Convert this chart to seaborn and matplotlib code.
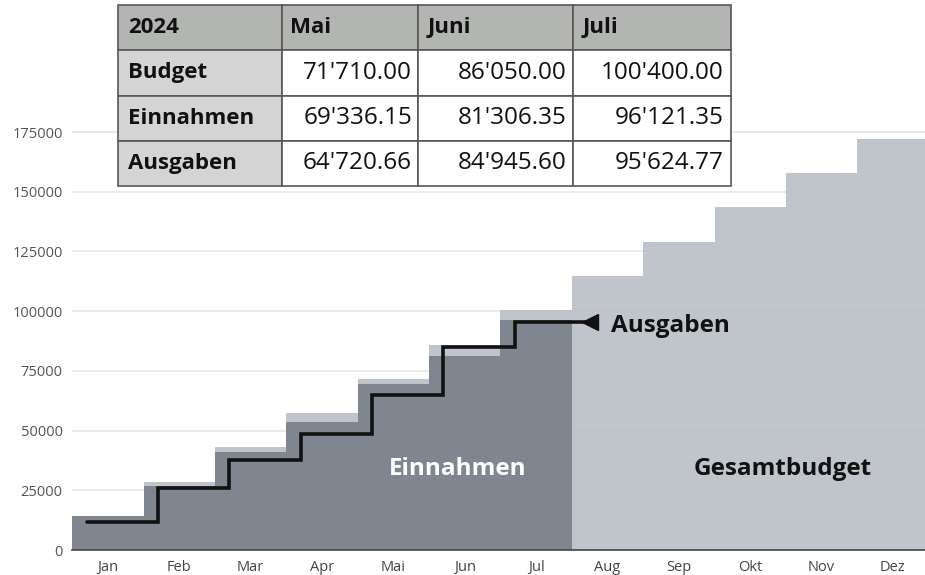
import numpy as np
import pandas as pd
import matplotlib
matplotlib.use("Agg")
import matplotlib.pyplot as plt
import seaborn as sns

# ---- data ----
months = ['Jan', 'Feb', 'Mar', 'Apr', 'Mai', 'Jun', 'Jul', 'Aug', 'Sep', 'Okt', 'Nov', 'Dez']
budget = [14340, 28680, 43020, 57360, 71710.00, 86050.00, 100400.00,
          114750, 129100, 143450, 157800, 172150]
einnahmen = [14300, 26700, 41200, 53800, 69336.15, 81306.35, 96121.35]
ausgaben = [11600, 26050, 37700, 48400, 64720.66, 84945.60, 95624.77]
table_year = '2024'
table_months = ['Mai', 'Juni', 'Juli']
table_rows = ['Budget', 'Einnahmen', 'Ausgaben']
y_ticks = [0, 25000, 50000, 75000, 100000, 125000, 150000, 175000]

sns.set_theme(style="white")
plt.rcParams['font.family'] = ['Open Sans', 'DejaVu Sans']

fig = plt.figure(figsize=(9.25, 5.75), dpi=100)
ax = fig.add_axes([72.3 / 925, 25 / 575, 856.3 / 925, 441.8 / 575])

light = (186 / 255, 191 / 255, 199 / 255)
dark = (120 / 255, 128 / 255, 138 / 255)

df_b = pd.DataFrame({'month': months, 'value': budget})
df_e = pd.DataFrame({'month': months[:len(einnahmen)], 'value': einnahmen})

ax.yaxis.grid(True, color='#e6e6e6', linewidth=1.2, zorder=0)
ax.set_axisbelow(True)

sns.barplot(data=df_b, x='month', y='value', order=months, color=light,
            saturation=1, width=1.0, alpha=0.9, linewidth=0, ax=ax, zorder=2)
sns.barplot(data=df_e, x='month', y='value', order=months, color=dark,
            saturation=1, width=1.0, alpha=0.9, linewidth=0, ax=ax, zorder=3)

# Ausgaben step line
n = len(ausgaben)
xs = list(np.arange(n) - 0.3) + [n - 0.3]
ys = list(ausgaben) + [ausgaben[-1]]
ax.plot(xs, ys, drawstyle='steps-post', color='#111111', lw=2.6,
        solid_joinstyle='miter', zorder=5)
ax.plot([n - 0.24], [ausgaben[-1]], marker='<', color='#111111',
        markersize=11, zorder=6)
ax.annotate('Ausgaben', xy=(n + 0.05, ausgaben[-1]), xytext=(0, -7.5),
            textcoords='offset points', fontsize=17.5, fontweight='bold',
            color='#111111', ha='left', va='baseline', zorder=7)

ax.text(4.9, 33900, 'Einnahmen', fontsize=17.5, fontweight='bold',
        color='white', ha='center', va='center', zorder=7)
ax.text(9.46, 33900, 'Gesamtbudget', fontsize=17.5, fontweight='bold',
        color='#111111', ha='center', va='center', zorder=7)

ax.set_xlim(-0.5, len(months) - 0.5)
ax.set_ylim(0, 185000)
ax.set_yticks(y_ticks)
ax.set_yticklabels([str(t) for t in y_ticks])
ax.set_xlabel('')
ax.set_ylabel('')
ax.tick_params(axis='y', length=0, labelsize=10.5, labelcolor='#555555', pad=7)
ax.tick_params(axis='x', length=0, labelsize=10.5, labelcolor='#444444', pad=7)
for s in ['top', 'right', 'left']:
    ax.spines[s].set_visible(False)
ax.spines['bottom'].set_color('#444444')
ax.spines['bottom'].set_linewidth(1.2)
ax.spines['bottom'].set_zorder(8)

# ---- table ----
def fmt(v):
    return f"{v:,.2f}".replace(',', "'")

idx = [months.index('Mai'), months.index('Jun'), months.index('Jul')]
cell_text = [[table_year] + table_months]
cell_text.append([table_rows[0]] + [fmt(budget[i]) for i in idx])
cell_text.append([table_rows[1]] + [fmt(einnahmen[i]) for i in idx])
cell_text.append([table_rows[2]] + [fmt(ausgaben[i]) for i in idx])

tax = fig.add_axes([118 / 925, (575 - 186) / 575, 613 / 925, 181 / 575])
tax.axis('off')
tbl = tax.table(cellText=cell_text, bbox=[0, 0, 1, 1],
                colWidths=[164, 136, 155, 158], cellLoc='right')
tbl.auto_set_font_size(False)
tbl.set_fontsize(17.5)
for (r, c), cell in tbl.get_celld().items():
    cell.set_edgecolor('#5b5656')
    cell.set_linewidth(1.2)
    txt = cell.get_text()
    txt.set_color('#111111')
    if r == 0 or c == 0:
        cell.set_facecolor('#b3b5b3' if r == 0 else '#d4d4d4')
        cell._loc = 'left'
        txt.set_ha('left')
        txt.set_fontweight('bold')
        txt.set_fontsize(16)
        cell.PAD = 0.06
    else:
        cell.set_facecolor('white')
        cell.PAD = 0.045

fig.savefig('out.png', dpi=100)
